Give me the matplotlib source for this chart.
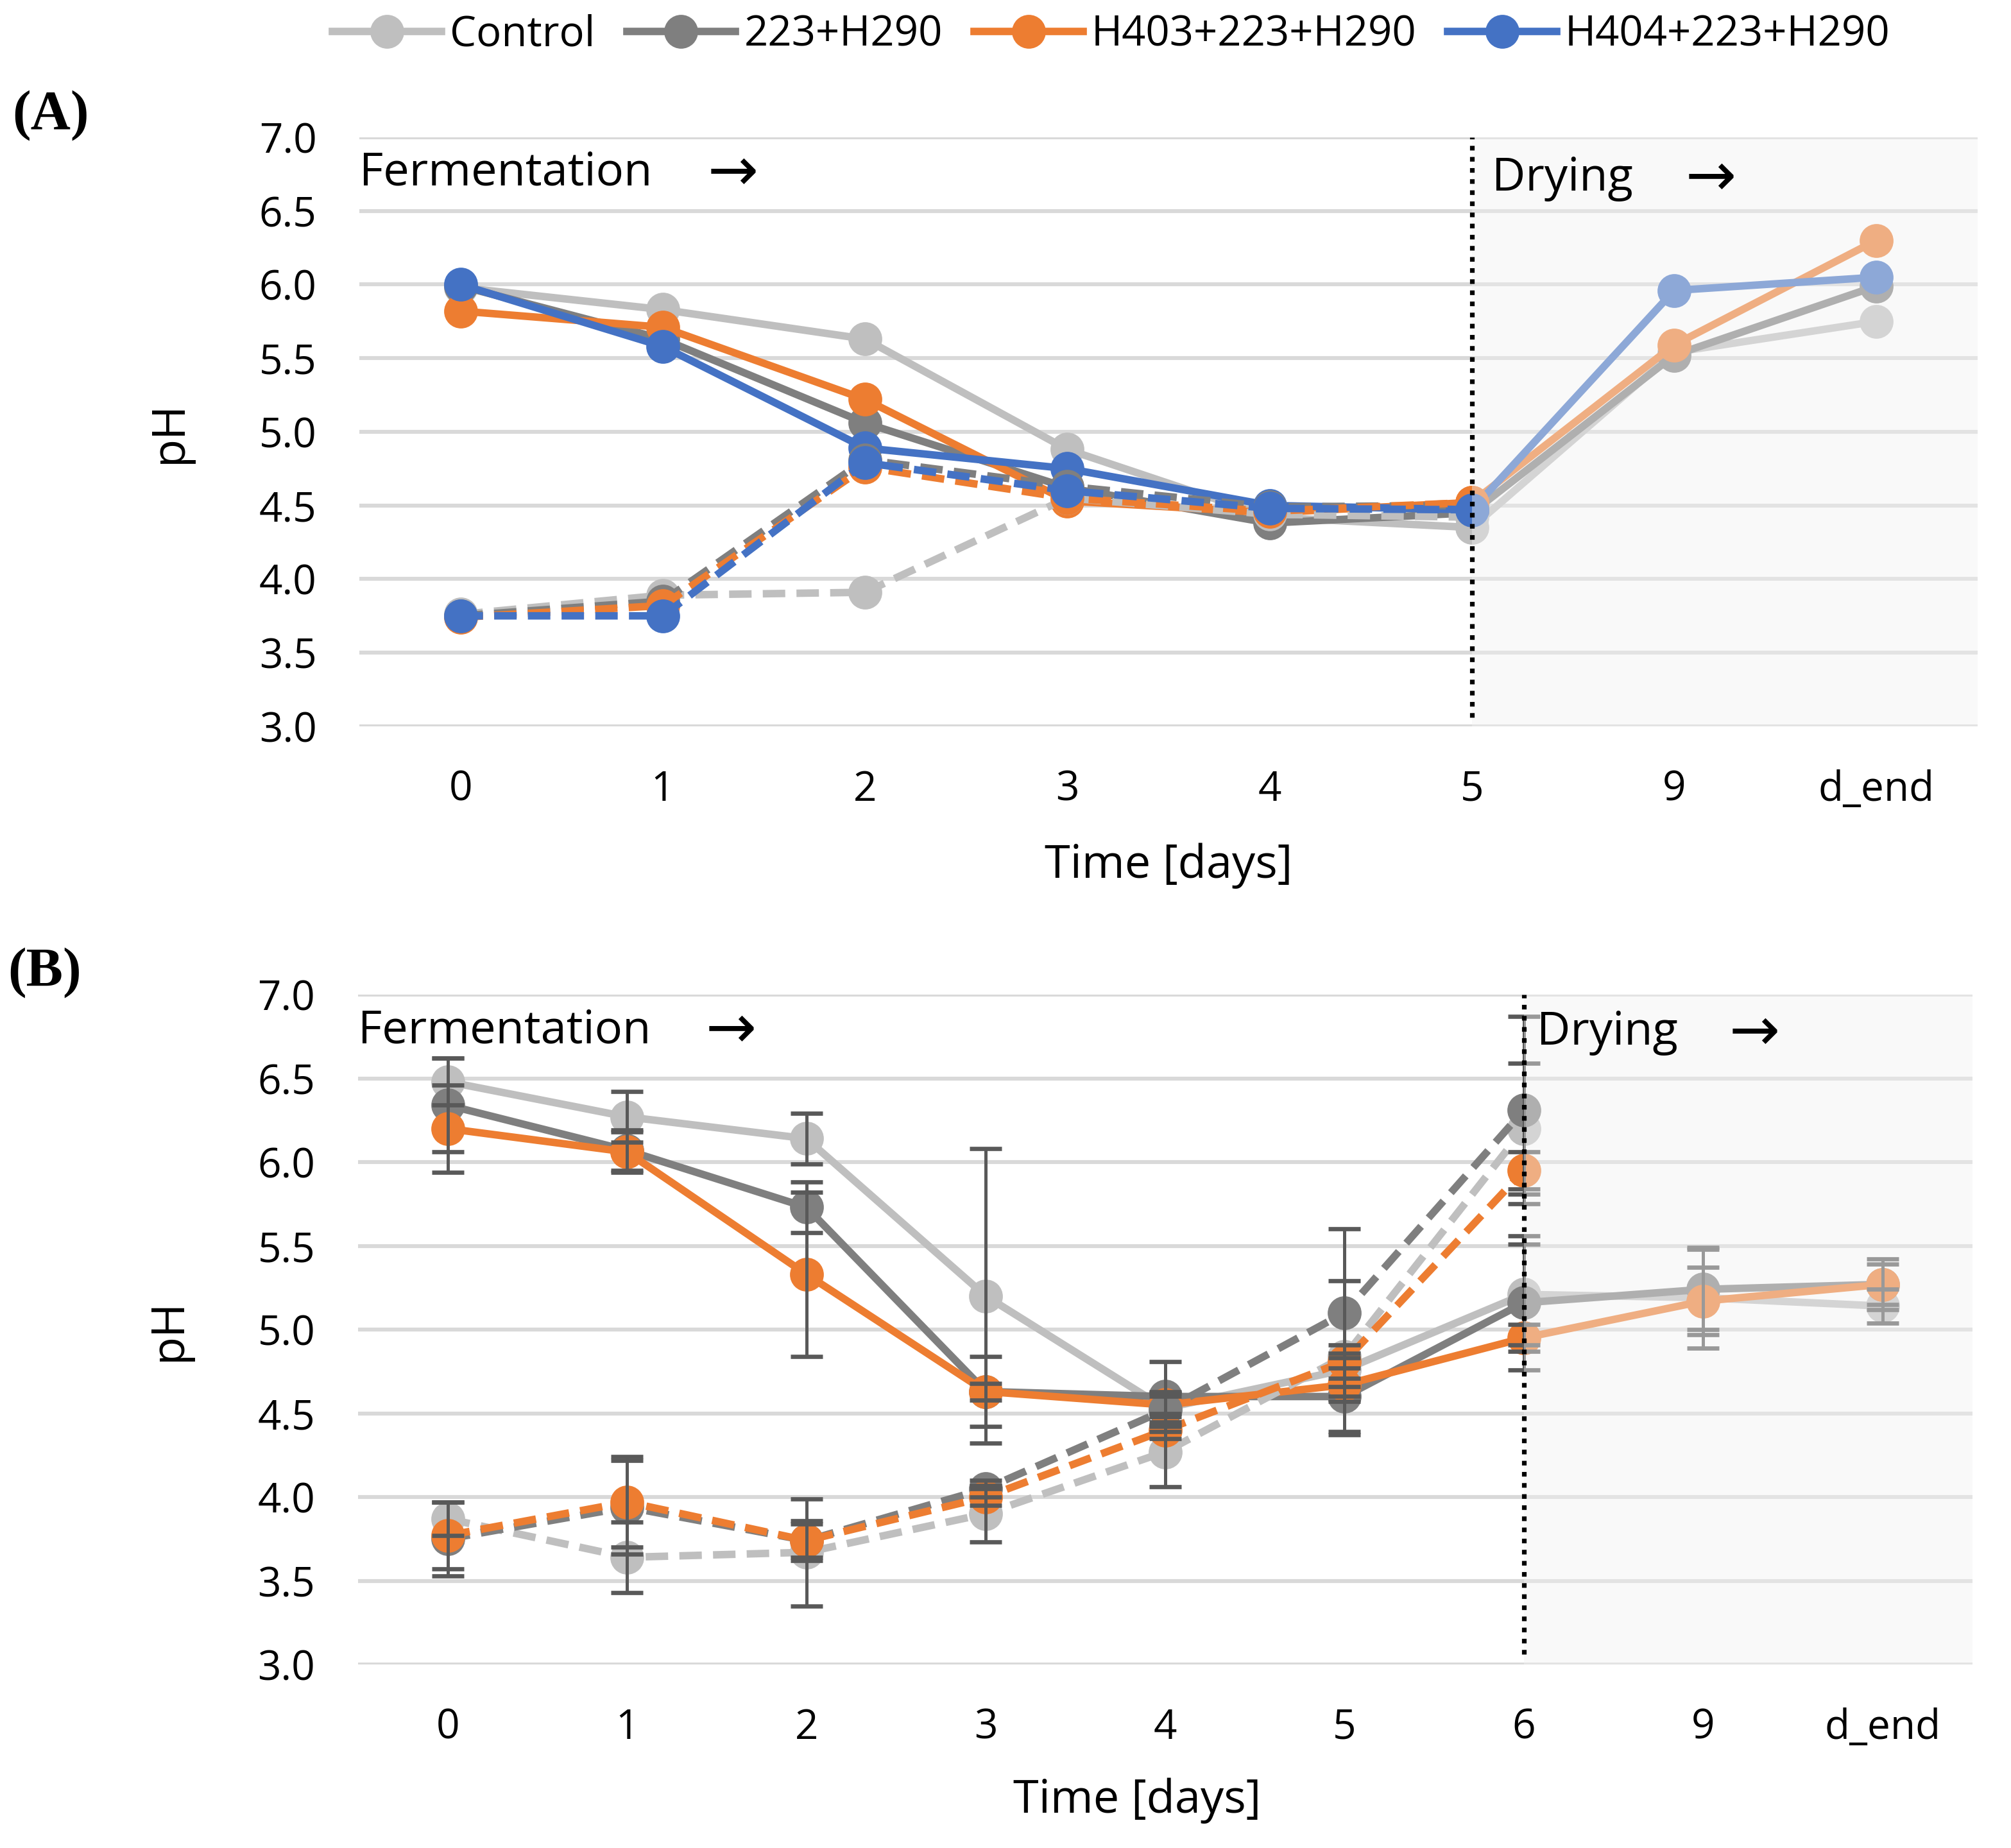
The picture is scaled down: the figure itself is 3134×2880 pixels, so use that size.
import matplotlib
matplotlib.use("Agg")
import matplotlib.pyplot as plt
from matplotlib.lines import Line2D

plt.rcParams['font.family'] = ['Open Sans', 'DejaVu Sans']

# ── data ──────────────────────────────────────────────────────────────────────
series_names = ["Control", "223+H290", "H403+223+H290", "H404+223+H290"]
colors = ["#bfbfbf", "#7f7f7f", "#ed7d31", "#4472c4"]

# Panel A
a_days = ["0", "1", "2", "3", "4", "5", "9", "d_end"]
a_dry_start = 5          # index of day 5
a_solid = [
    [5.98, 5.83, 5.63, 4.88, 4.42, 4.35, 5.54, 5.75],
    [5.99, 5.63, 5.06, 4.62, 4.38, 4.45, 5.52, 5.99],
    [5.82, 5.71, 5.22, 4.53, 4.45, 4.52, 5.59, 6.30],
    [6.00, 5.58, 4.89, 4.75, 4.50, 4.47, 5.96, 6.05],
]
a_dashed = [
    [3.76, 3.89, 3.91, 4.55, 4.44, 4.42],
    [3.75, 3.85, 4.81, 4.63, 4.49, 4.50],
    [3.74, 3.82, 4.76, 4.55, 4.46, 4.52],
    [3.75, 3.75, 4.79, 4.60, 4.48, 4.47],
]

# Panel B (no H404 series)
b_days = ["0", "1", "2", "3", "4", "5", "6", "9", "d_end"]
b_dry_start = 6          # index of day 6
b_solid = [
    [6.48, 6.27, 6.14, 5.20, 4.53, 4.76, 5.21, 5.19, 5.14],
    [6.34, 6.07, 5.73, 4.63, 4.60, 4.60, 5.16, 5.24, 5.27],
    [6.20, 6.06, 5.33, 4.63, 4.55, 4.67, 4.95, 5.17, 5.27],
]
b_solid_err = [
    [0.14, 0.15, 0.15, 0.88, 0.10, 0.10, 0.30, 0.30, 0.10],
    [0.28, 0.12, 0.15, 0.21, 0.21, 0.23, 0.40, 0.24, 0.15],
    [0.26, 0.12, 0.49, 0.05, 0.05, 0.10, 0.08, 0.20, 0.12],
]
b_dashed = [
    [3.87, 3.64, 3.67, 3.90, 4.27, 4.84, 6.20],
    [3.75, 3.94, 3.74, 4.05, 4.52, 5.10, 6.31],
    [3.77, 3.97, 3.74, 4.00, 4.40, 4.81, 5.95],
]
b_dashed_err = [
    [0.10, 0.21, 0.32, 0.17, 0.21, 0.45, 0.39],
    [0.22, 0.28, 0.10, 0.05, 0.10, 0.50, 0.56],
    [0.20, 0.27, 0.12, 0.05, 0.05, 0.10, 0.11],
]

yticks = [3.0, 3.5, 4.0, 4.5, 5.0, 5.5, 6.0, 6.5, 7.0]

# ── figure ────────────────────────────────────────────────────────────────────
fig = plt.figure(figsize=(15.67, 14.4), dpi=200)
axA = fig.add_axes([0.1787, 0.607, 0.8047, 0.3187])
axB = fig.add_axes([0.1780, 0.0993, 0.8028, 0.3625])

LW = 4.2
MS = 19
ERR = "#595959"
ARROW_FONT = ["DejaVu Sans"]


def style_axis(ax, labels, label_x, label_y):
    ax.set_xlim(-0.5, len(labels) - 0.5)
    ax.set_ylim(3.0, 7.0)
    ax.set_xticks(range(len(labels)))
    ax.set_xticklabels(labels)
    ax.set_yticks(yticks)
    ax.set_yticklabels([f"{v:.1f}" for v in yticks])
    ax.tick_params(axis="both", length=0, labelsize=23)
    ax.tick_params(axis="x", pad=24)
    ax.tick_params(axis="y", pad=24)
    for s in ax.spines.values():
        s.set_visible(False)
    ax.grid(axis="y", color="#d9d9d9", linewidth=2.2, zorder=0)
    ax.set_axisbelow(True)
    ax.set_ylabel("pH", fontsize=26)
    ax.yaxis.set_label_coords(-0.103, 0.5)
    ax.set_xlabel("Time [days]", fontsize=26)
    ax.xaxis.set_label_coords(label_x, label_y)
    ax.xaxis.label.set_va("center")


def phase_marks(ax, k, ferm_y, dry_x, dry_y):
    ax.axvspan(k, ax.get_xlim()[1], ymin=0, ymax=1, color="#f3f3f3",
               alpha=0.42, zorder=6, linewidth=0)
    ax.vlines(k, 3.06, 7.0, colors="black", linestyles=(0, (1, 1.4)),
              linewidth=2.6, zorder=7)
    ax.text(0.0, ferm_y, "Fermentation", transform=ax.transAxes,
            fontsize=26, va="center", ha="left", zorder=8)
    ax.text(0.231, ferm_y, "\u2192", transform=ax.transAxes, family=ARROW_FONT,
            fontsize=34, va="center", ha="center", zorder=8)
    ax.text(dry_x, dry_y, "Drying", transform=ax.transAxes,
            fontsize=26, va="center", ha="left", zorder=8)
    ax.text(dry_x + 0.135, dry_y, "\u2192", transform=ax.transAxes,
            family=ARROW_FONT, fontsize=34, va="center", ha="center", zorder=8)


# Panel A
style_axis(axA, a_days, 0.5, -0.237)
for vals, c in zip(a_solid, colors):
    axA.plot(range(len(vals)), vals, color=c, lw=LW, marker="o", ms=MS,
             mew=0, zorder=3)
for vals, c in zip(a_dashed, colors):
    axA.plot(range(len(vals)), vals, color=c, lw=LW, marker="o", ms=MS,
             mew=0, ls=(0, (3, 1.5)), zorder=3)
phase_marks(axA, a_dry_start, 0.939, 0.700, 0.930)

# Panel B
style_axis(axB, b_days, 0.4825, -0.203)
for vals, err, c in zip(b_solid, b_solid_err, colors):
    x = range(len(vals))
    axB.plot(x, vals, color=c, lw=LW, marker="o", ms=MS, mew=0, zorder=3)
    axB.errorbar(x, vals, yerr=err, fmt="none", ecolor=ERR, elinewidth=1.8,
                 capsize=9, capthick=2.4, zorder=4)
for vals, err, c in zip(b_dashed, b_dashed_err, colors):
    x = range(len(vals))
    axB.plot(x, vals, color=c, lw=LW, marker="o", ms=MS, mew=0,
             ls=(0, (3, 1.5)), zorder=3)
    axB.errorbar(x, vals, yerr=err, fmt="none", ecolor=ERR, elinewidth=1.8,
                 capsize=9, capthick=2.4, zorder=4)
phase_marks(axB, b_dry_start, 0.946, 0.730, 0.943)

# legend
handles = [Line2D([0], [0], color=c, lw=LW, marker="o", ms=MS, mew=0)
           for c in colors]
fig.legend(handles, series_names, loc="center", bbox_to_anchor=(0.5527, 0.981),
           ncol=4, frameon=False, fontsize=23.5, handlelength=2.6,
           handletextpad=0.2, columnspacing=0.75)

# panel letters
fig.text(0.006, 0.9375, "(A)", family="Liberation Serif", fontweight="bold",
         fontsize=31, va="center", ha="left")
fig.text(0.004, 0.4736, "(B)", family="Liberation Serif", fontweight="bold",
         fontsize=31, va="center", ha="left")

fig.savefig("out.png", dpi=200)
